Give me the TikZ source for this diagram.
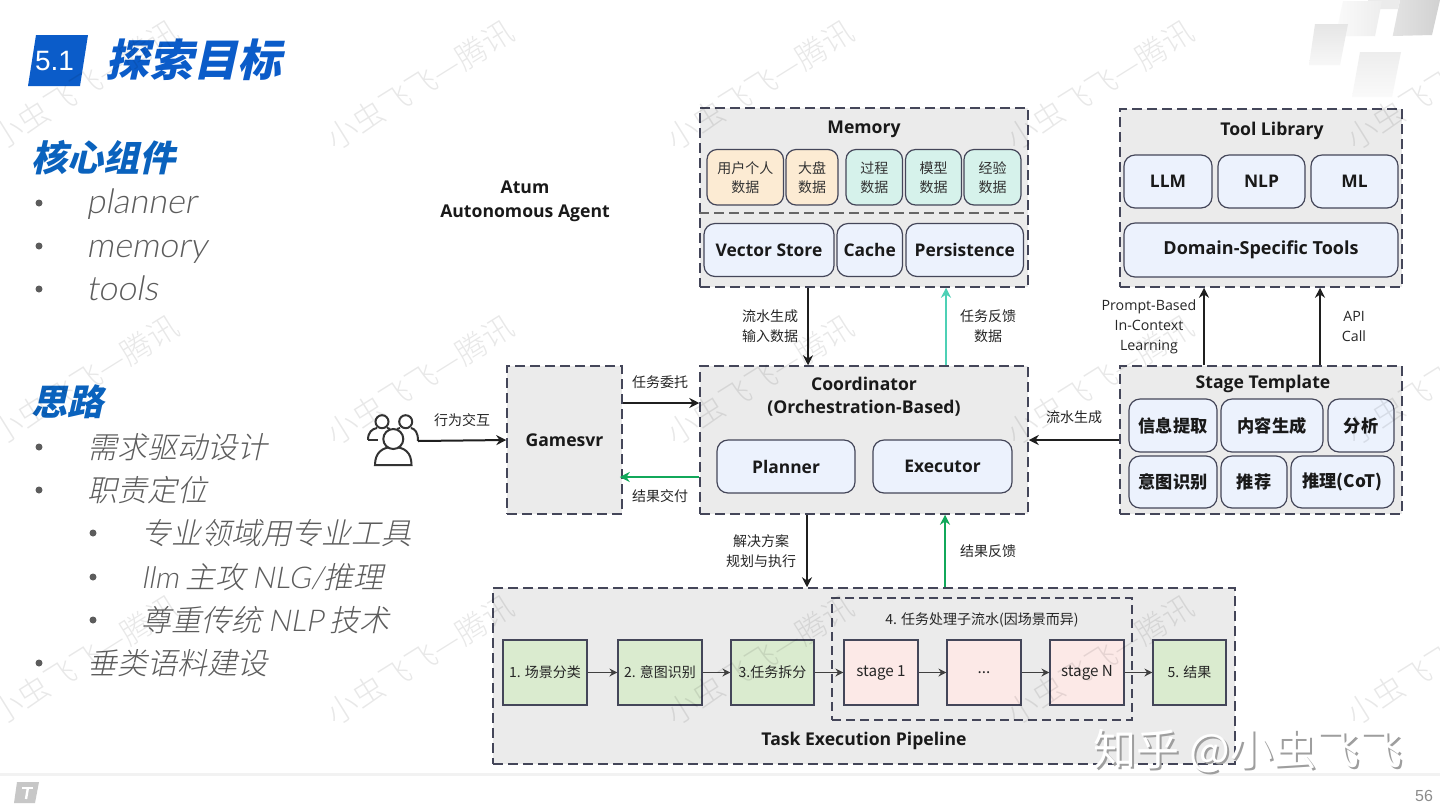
\documentclass[tikz,border=0pt]{standalone}
\usepackage{fontspec}
\usetikzlibrary{arrows.meta}
\setmainfont{Open Sans}
\newfontfamily\cjk{Noto Sans CJK SC}
\newfontfamily\cjkslant[FakeSlant=0.22]{Noto Sans CJK SC}
\newfontfamily\cjklight{Noto Sans CJK SC Light}
\newfontfamily\cjkthin[FakeSlant=0.22]{Noto Sans CJK SC Light}
\newfontfamily\latthin[FakeSlant=0.18]{Lato Light}
\newfontfamily\arialish{Liberation Sans}
\definecolor{dashc}{HTML}{444659}
\definecolor{contc}{HTML}{EBEBEB}
\definecolor{cream}{HTML}{FCEBD3}
\definecolor{tealc}{HTML}{D6F2EB}
\definecolor{bluec}{HTML}{ECF2FD}
\definecolor{greenc}{HTML}{DAEBCF}
\definecolor{pinkc}{HTML}{FCE9E7}
\definecolor{titleb}{HTML}{0B5CC9}
\definecolor{headb}{HTML}{0A62BD}
\definecolor{arrg}{HTML}{11A85A}
\definecolor{arrt}{HTML}{4DD0B5}
\definecolor{listc}{HTML}{5C5C5C}
\newcommand{\bx}[7]{\pgfmathsetmacro\bxw{(#5-#3)*.5}\pgfmathsetmacro\bxh{(#6-#4)*.5}\node[#1,minimum width=\bxw pt,minimum height=\bxh pt,inner sep=0pt] (#2) at ({(#3+#5)/2},{(#4+#6)/2}) {#7};}
\tikzset{
  cont/.style={draw=dashc,fill=contc,line width=.75pt,dash pattern=on 5pt off 2.5pt},
  inner dash/.style={draw=dashc,line width=.7pt,dash pattern=on 4.5pt off 2.5pt},
  small round/.style={draw=dashc,rounded corners=5pt,line width=.6pt,align=center,font=\cjk\fontsize{7}{9.5}\selectfont,text=black!80},
  creambox/.style={small round,fill=cream},
  tealbox/.style={small round,fill=tealc},
  bluebox/.style={draw=dashc,rounded corners=5.5pt,line width=.6pt,fill=bluec,align=center,font=\fontsize{8.7}{11}\selectfont\bfseries,text=black!90},
  cjkblue/.style={bluebox,font=\cjk\fontsize{8.6}{11}\selectfont\bfseries},
  greenbox/.style={draw=dashc,line width=.6pt,fill=greenc,align=center,font=\cjk\fontsize{7}{9}\selectfont,text=black!85},
  pinkbox/.style={draw=dashc,line width=.6pt,fill=pinkc,align=center,font=\cjk\fontsize{7.6}{9}\selectfont,text=black!85},
  ctitle/.style={font=\fontsize{8.8}{11.5}\selectfont\bfseries,align=center,text=black!90,inner sep=0pt},
  lab/.style={font=\cjk\fontsize{7}{10}\selectfont,align=center,text=black!85,inner sep=0pt},
  lablat/.style={font=\fontsize{7.1}{10}\selectfont,align=center,text=black!85,inner sep=0pt},
  arr/.style={-{Stealth[length=5pt,width=5pt]},line width=1pt,draw=black!88},
  arrs/.style={-{Stealth[length=4pt,width=4pt]},line width=.9pt,draw=black!75},
  hcjk/.style={font=\cjkslant\fontsize{18}{20}\selectfont\bfseries,text=headb,anchor=west,inner sep=0pt},
  lcjk/.style={font=\cjkthin\fontsize{15}{16}\selectfont,text=listc,anchor=west,inner sep=0pt},
  llat/.style={font=\latthin\fontsize{17}{18}\selectfont,text=listc,anchor=base west,inner sep=0pt},
  bul/.style={fill=listc,draw=none},
  wm/.style={font=\cjklight\fontsize{15.5}{16}\selectfont,text=black,opacity=.09,rotate=32,inner sep=0pt},
  zh/.style={font=\cjk\fontsize{21.5}{23}\selectfont,inner sep=0pt},
}
\begin{document}
\begin{tikzpicture}[x=0.5pt,y=-0.5pt]
\useasboundingbox (0,0) rectangle (1440,810);
\fill[white] (0,0) rectangle (1440,810);
% top right decoration
\shade[left color=black!11,right color=black!18] (1392.7,36)--(1400,0)--(1440,0)--(1432,35)--cycle;
\fill[black!8] (1368,0)--(1400,0)--(1398,9)--(1368,9)--cycle;
\shade[left color=black!2,right color=black!7] (1338,25)--(1343,1)--(1382,1)--(1375,36)--(1346,36)--cycle;
\shade[top color=black!10,bottom color=black!3] (1315,24)--(1348,24)--(1340,65)--(1309,65)--cycle;
\shade[top color=black!7,bottom color=black!2] (1360,52)--(1401,52)--(1392,97)--(1352,97)--cycle;
% header
\fill[titleb] (36,35)--(88,35)--(80,86)--(28,86)--cycle;
\node[font=\arialish\fontsize{14}{15}\selectfont,text=white,inner sep=0pt] (secno) at (54.5,61) {5.1};
\node[font=\cjkslant\fontsize{22}{24}\selectfont\bfseries,text=titleb,anchor=west,inner sep=0pt] (maintitle) at (105,60) {探索目标};
% left text
\node[hcjk] (h1) at (31,158) {核心组件};
\node[llat] (l1) at (86,213) {planner};
\node[llat] (l2) at (86,257) {memory};
\node[llat] (l3) at (86,300) {tools};
\node[hcjk] (h2) at (31,402) {思路};
\node[lcjk] (l4) at (87,447) {需求驱动设计};
\node[lcjk] (l5) at (87,490) {职责定位};
\node[lcjk] (l6) at (141,533) {专业领域用专业工具};
\node[lcjk] (l7) at (141,577) {{\latthin llm} 主攻 {\latthin NLG/}推理};
\node[lcjk] (l8) at (141,620) {尊重传统 {\latthin NLP} 技术};
\node[lcjk] (l9) at (87,663) {垂类语料建设};
\foreach \p in {(39,203),(39,246),(39,289),(39,447),(39,490),(93,533),(93,577),(93,620),(39,663)}
  \fill[bul] \p circle (3.5);
% Atum
\node[ctitle,font=\fontsize{8.8}{12}\selectfont\bfseries] (atum) at (525,201.5) {Atum\\Autonomous Agent};
% Memory
\bx{cont}{mem}{700}{108}{1028}{287}{}
\node[ctitle] (memt) at (864,129) {Memory};
\draw[draw=black!60,line width=.9pt,dash pattern=on 5pt off 2.5pt] (mem.west |- 0,212.7) -- (mem.east |- 0,212.7);
\bx{creambox}{m1}{707}{149.5}{783.5}{205}{用户个人\\数据}
\bx{creambox}{m2}{786}{149.5}{838}{205}{大盘\\数据}
\bx{tealbox}{m3}{846}{149.5}{902.5}{205}{过程\\数据}
\bx{tealbox}{m4}{905.5}{149.5}{961.5}{205}{模型\\数据}
\bx{tealbox}{m5}{964}{149.5}{1021}{205}{经验\\数据}
\bx{bluebox}{vs}{704}{223.5}{834}{276.5}{Vector Store}
\bx{bluebox}{cache}{837}{223.5}{902.5}{276.5}{Cache}
\bx{bluebox}{pers}{906}{223.5}{1023.5}{276.5}{Persistence}
% Tool Library
\bx{cont}{tool}{1120}{109}{1402}{287}{}
\node[ctitle] (toolt) at (1272,131) {Tool Library};
\bx{bluebox}{llm}{1124}{155}{1212}{208}{\raisebox{-.5pt}{LLM}}
\bx{bluebox}{nlp}{1218}{155}{1305}{208}{\raisebox{-.5pt}{NLP}}
\bx{bluebox}{ml}{1311}{155}{1398}{208}{\raisebox{-.5pt}{ML}}
\bx{bluebox,font=\fontsize{9}{11}\selectfont\bfseries}{dst}{1124}{223}{1398}{277}{\raisebox{-.8pt}{Domain-Specific Tools}}
% Coordinator
\bx{cont}{coord}{700}{366}{1028}{514}{}
\node[ctitle] (coordt) at (864,397) {Coordinator\\(Orchestration-Based)};
\bx{bluebox}{planner}{717}{440}{855}{493}{Planner}
\bx{bluebox}{exec}{873}{440}{1012}{493}{\raisebox{-.5pt}{Executor}}
% Gamesvr
\bx{cont,font=\fontsize{8.8}{11}\selectfont\bfseries,text=black!90}{game}{507}{366}{622}{514}{Gamesvr}
% Stage Template
\bx{cont}{stage}{1120}{366}{1402}{514}{}
\node[ctitle] (staget) at (1263,384) {Stage Template};
\bx{cjkblue}{s1}{1129}{399}{1217}{452}{信息提取}
\bx{cjkblue}{s2}{1221}{399}{1323}{452}{内容生成}
\bx{cjkblue}{s3}{1328}{399}{1394}{452}{分析}
\bx{cjkblue}{s4}{1129}{456}{1217}{508}{意图识别}
\bx{cjkblue}{s5}{1221}{456}{1287}{508}{推荐}
\bx{cjkblue}{s6}{1291}{456}{1394}{508}{推理(CoT)}
% Pipeline
\bx{cont}{pipe}{493}{588}{1235}{764}{}
\node[ctitle] (pipet) at (864,741) {Task Execution Pipeline};
\bx{inner dash}{sub}{832}{598}{1132}{720}{}
\node[lab] (subt) at (982,620) {4. 任务处理子流水(因场景而异)};
\bx{greenbox}{p1}{503}{640}{587}{705}{1. 场景分类}
\bx{greenbox}{p2}{618}{640}{702}{705}{2. 意图识别}
\bx{greenbox}{p3}{731}{640}{814}{705}{3.任务拆分}
\bx{pinkbox}{p4}{844}{640}{918}{705}{stage 1}
\bx{pinkbox}{p5}{947}{640}{1021}{705}{...}
\bx{pinkbox}{p6}{1050}{640}{1124}{705}{stage N}
\bx{greenbox}{p7}{1153}{640}{1226}{705}{5. 结果}
\foreach \a/\b in {p1/p2,p2/p3,p3/p4,p4/p5,p5/p6,p6/p7}
  \draw[arrs] (\a) -- (\b);
% users icon
\coordinate (users) at (418,441);
\begin{scope}[draw=black!80,line width=1pt]
\draw[fill=white] (382,421.7) circle (6.5);
\draw[fill=white] (405.7,421.7) circle (6.5);
\draw (368,440) .. controls (368,432) and (372,429) .. (377,428);
\draw (387,428) .. controls (387,428) and (388,428) .. (390,429);
\draw (400,428) .. controls (398,428) and (398,428) .. (397,429);
\draw (411,428) .. controls (415,429) and (418,432) .. (418,441);
\draw (368,440) -- (378,440);
\draw[fill=white] (375,465) .. controls (375,452) and (383,447) .. (393.3,447) .. controls (404,447) and (411.5,452) .. (411.5,465) -- cycle;
\draw[fill=white] (393.3,439) circle (10);
\end{scope}
% connectors
\draw[arr] ([xshift=-28pt]mem.south) -- ([xshift=-28pt]coord.north);
\draw[arr,draw=arrt] ([xshift=41pt]coord.north) -- ([xshift=41pt]mem.south);
\draw[arr] ([xshift=-28.5pt]coord.south) -- ([xshift=-28.5pt]pipe.north -| coord.south);
\draw[arr,draw=arrg] ([xshift=40.5pt]pipe.north -| coord.south) -- ([xshift=40.5pt]coord.south);
\draw[arr] ([yshift=18.5pt]game.east) -- ([yshift=18.5pt]coord.west);
\draw[arr,draw=arrg] ([yshift=-18.5pt]coord.west) -- ([xshift=-1.5pt,yshift=-18.5pt]game.east);
\draw[arr] (users) -- (game.west);
\draw[arr] (stage.west) -- (coord.east);
\draw[arr] ([xshift=-28.5pt]stage.north -| tool.north) -- ([xshift=-28.5pt]tool.south);
\draw[arr] ([xshift=29.5pt]stage.north -| tool.north) -- ([xshift=29.5pt]tool.south);
% labels
\node[lab] (la1) at (770,326) {流水生成\\输入数据};
\node[lab] (la2) at (988,326) {任务反馈\\数据};
\node[lab] (la3) at (660,382) {任务委托};
\node[lab] (la4) at (660,496) {结果交付};
\node[lab] (la5) at (462,420) {行为交互};
\node[lab] (la6) at (761,551) {解决方案\\规划与执行};
\node[lab] (la7) at (988,551) {结果反馈};
\node[lab] (la8) at (1074,417) {流水生成};
\node[lablat] (la9) at (1149,327) {Prompt-Based\\In-Context\\Learning};
\node[lablat] (la10) at (1354,326.5) {API\\Call};
% footer
\fill[black!5] (0,773) rectangle (1440,775.5);
\fill[black!22] (17,782)--(39,782)--(35,803)--(14,803)--cycle;
\draw[white,line width=1pt] (22,787.5)--(33,787.5);
\draw[white,line width=1.2pt] (28,787.5)--(26,799);
\node[font=\arialish\fontsize{8}{9}\selectfont,text=black!45,inner sep=0pt] (pageno) at (1424,795.5) {56};
% watermarks
\foreach \wx in {85,420,760,1100,1440}
  \foreach \wy in {85,380,660}
    \node[wm] at (\wx,\wy) {小虫飞飞—腾讯};
\node[zh,text=black!38] (zhihus) at (1250,753) {知乎 @小虫飞飞};
\node[zh,text=white] (zhihu) at (1248,751) {知乎 @小虫飞飞};
\end{tikzpicture}
\end{document}
